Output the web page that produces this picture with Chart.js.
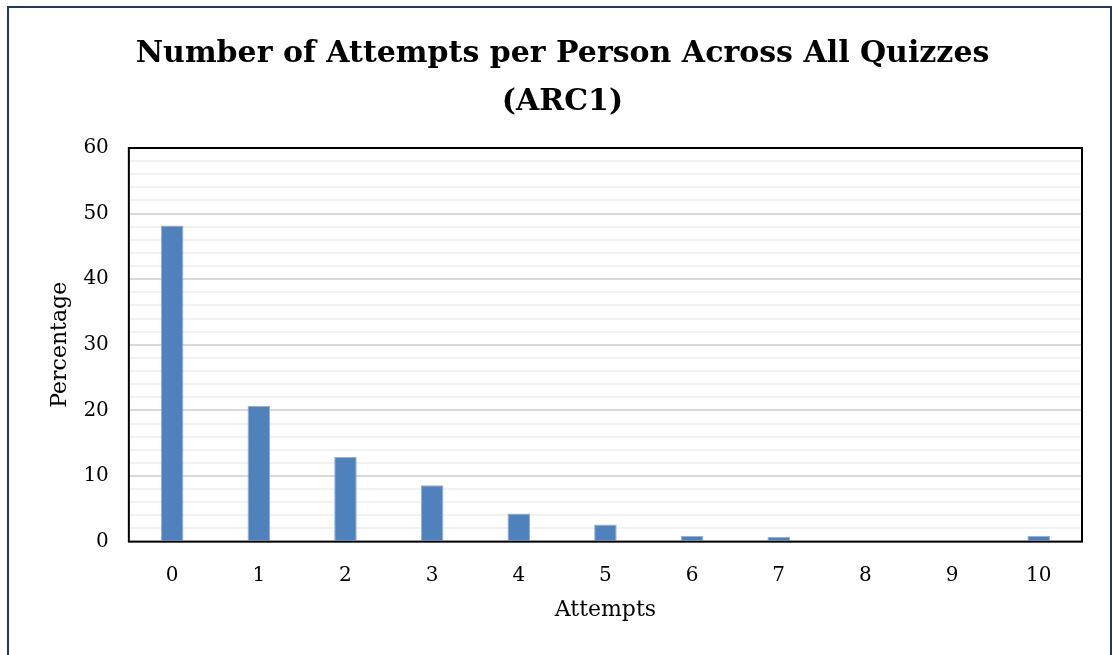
<!DOCTYPE html>
<html>
<head>
<meta charset="utf-8">
<script src="https://cdn.jsdelivr.net/npm/chart.js@4/dist/chart.umd.min.js"></script>
<style>
  html, body { margin: 0; padding: 0; background: #fff; }
  #frame {
    position: absolute; left: 7px; top: 6px;
    width: 1101px; height: 700px;
    border: 2px solid #1f3864;
    background: #fff;
  }
  #wrap { position: absolute; left: -9px; top: -8px; width: 1112px; height: 655px; }
</style>
</head>
<body>
<div id="frame"><div id="wrap"><canvas id="chart" width="1112" height="655"></canvas></div></div>
<script>
// valores
var attempts = ['0', '1', '2', '3', '4', '5', '6', '7', '8', '9', '10'];
var percentage = [48.2, 20.7, 12.9, 8.6, 4.3, 2.6, 0.9, 0.75, 0, 0, 0.9];
var yTicks = [0, 10, 20, 30, 40, 50, 60];

var serif = "'DejaVu Serif', 'Liberation Serif', serif";

// moldura preta em volta da área do gráfico
var plotBorder = {
    id: 'plotBorder',
    afterDatasetsDraw: function (chart) {
        var a = chart.chartArea;
        var ctx = chart.ctx;
        ctx.save();
        ctx.strokeStyle = '#000';
        ctx.lineWidth = 2;
        ctx.strokeRect(a.left, a.top, a.right - a.left, a.bottom - a.top);
        ctx.restore();
    }
};

var ctx = document.getElementById('chart').getContext('2d');
var chart = new Chart(ctx, {
    type: 'bar',
    data: {
        labels: attempts,
        datasets: [{
            label: 'Percentage',
            data: percentage,
            backgroundColor: '#4f81bd',
            borderColor: '#8eaedb',
            borderWidth: 1,
            categoryPercentage: 1,
            barPercentage: 0.26
        }]
    },
    options: {
        responsive: false,
        animation: false,
        layout: { padding: { left: 43, right: 30, top: 18, bottom: 28 } },
        scales: {
            x: {
                grid: { display: false },
                border: { display: false },
                ticks: { color: '#000', font: { family: serif, size: 20 }, padding: 14 },
                title: {
                    display: true, text: 'Attempts', color: '#000',
                    font: { family: serif, size: 22 }, padding: { top: -5 }
                }
            },
            y: {
                min: 0,
                max: 60,
                ticks: {
                    stepSize: 2,
                    autoSkip: false,
                    color: '#000',
                    font: { family: serif, size: 20 },
                    padding: 20,
                    callback: function (v) { return yTicks.indexOf(v) >= 0 ? v : ''; }
                },
                grid: {
                    drawTicks: false,
                    lineWidth: 2,
                    color: function (c) {
                        return yTicks.indexOf(c.tick.value) >= 0 ? '#d9d9d9' : '#f2f2f2';
                    }
                },
                border: { display: false },
                title: {
                    display: true, text: 'Percentage', color: '#000',
                    font: { family: serif, size: 22 }, padding: { bottom: -10 }
                }
            }
        },
        plugins: {
            legend: { display: false },
            tooltip: { enabled: false },
            title: {
                display: true,
                text: ['Number of Attempts per Person Across All Quizzes', '(ARC1)'],
                color: '#000',
                font: { family: serif, size: 30, weight: 'bold', lineHeight: 1.6 },
                padding: { top: 12, bottom: 22 }
            }
        }
    },
    plugins: [plotBorder]
});
</script>
</body>
</html>
